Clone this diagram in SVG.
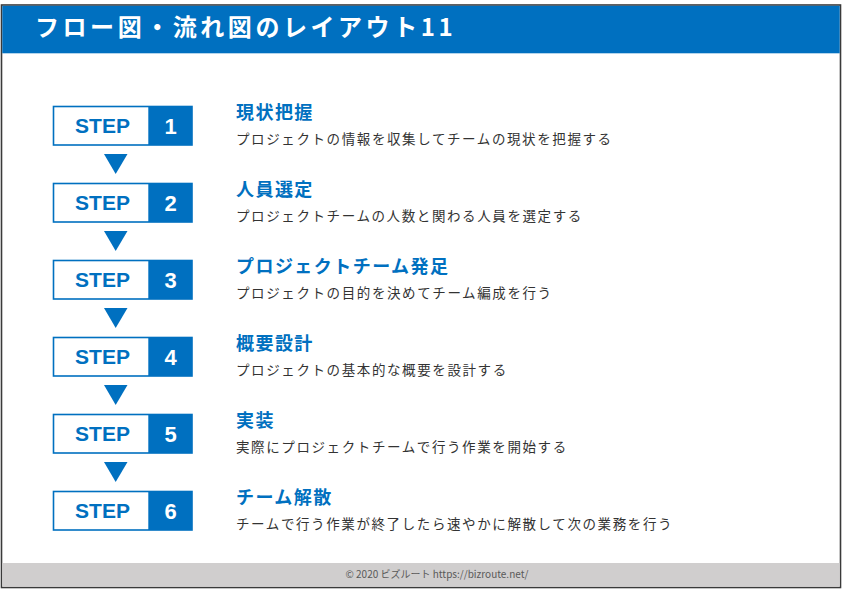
<svg xmlns="http://www.w3.org/2000/svg" width="842" height="595" viewBox="0 0 842 595">
<style>
.frame{fill:#fff;stroke:#3a3a3a;stroke-width:1.6}
.hdr{fill:#0070C0}
.ttl{font-family:"Noto Sans CJK JP","Noto Sans",sans-serif;font-weight:bold;font-size:24px;fill:#fff;letter-spacing:3.55px}
.box{fill:#fff;stroke:#0070C0;stroke-width:1.6}
.num{fill:#0070C0}
.step{font-family:"Liberation Sans",Arial,sans-serif;font-weight:bold;font-size:21px;fill:#0070C0;text-anchor:middle}
.digit{font-family:"Liberation Sans",Arial,sans-serif;font-weight:bold;font-size:22px;fill:#fff;text-anchor:middle}
.tri{fill:#0070C0}
.h{font-family:"Noto Sans CJK JP","Noto Sans",sans-serif;font-weight:bold;font-size:18px;fill:#0070C0;letter-spacing:1.45px}
.d{font-family:"Noto Sans CJK JP","Noto Sans",sans-serif;font-size:13.5px;fill:#333;letter-spacing:1.6px}
.ft{font-family:"Noto Sans CJK JP","Noto Sans",sans-serif;font-size:10px;fill:#595959}
</style>
<rect class="frame" x="1.5" y="5" width="839" height="582.5"/>
<rect class="hdr" x="2.3" y="5.8" width="837.4" height="47.5"/>
<text class="ttl" x="35" y="35.5">フロー図・流れ図のレイアウト11</text>
<rect x="2.3" y="563" width="837.4" height="23.7" fill="#D0CECE"/>
<text class="ft" x="437" y="578" text-anchor="middle">© 2020 ビズルート https://bizroute.net/</text>

<g id="step1">
<rect class="box" x="53.5" y="106.5" width="138.5" height="38.5"/>
<rect class="num" x="148.3" y="106.5" width="43.7" height="38.5"/>
<text class="step" x="102.5" y="133">STEP</text>
<text class="digit" x="170.5" y="133.5">1</text>
<text class="h" x="236" y="119">現状把握</text>
<text class="d" x="236" y="144">プロジェクトの情報を収集してチームの現状を把握する</text>
</g>
<g id="step2">
<rect class="box" x="53.5" y="183.5" width="138.5" height="38.5"/>
<rect class="num" x="148.3" y="183.5" width="43.7" height="38.5"/>
<text class="step" x="102.5" y="210">STEP</text>
<text class="digit" x="170.5" y="210.5">2</text>
<text class="h" x="236" y="196">人員選定</text>
<text class="d" x="236" y="221">プロジェクトチームの人数と関わる人員を選定する</text>
</g>
<g id="step3">
<rect class="box" x="53.5" y="260.5" width="138.5" height="38.5"/>
<rect class="num" x="148.3" y="260.5" width="43.7" height="38.5"/>
<text class="step" x="102.5" y="287">STEP</text>
<text class="digit" x="170.5" y="287.5">3</text>
<text class="h" x="236" y="273">プロジェクトチーム発足</text>
<text class="d" x="236" y="298">プロジェクトの目的を決めてチーム編成を行う</text>
</g>
<g id="step4">
<rect class="box" x="53.5" y="337.5" width="138.5" height="38.5"/>
<rect class="num" x="148.3" y="337.5" width="43.7" height="38.5"/>
<text class="step" x="102.5" y="364">STEP</text>
<text class="digit" x="170.5" y="364.5">4</text>
<text class="h" x="236" y="350">概要設計</text>
<text class="d" x="236" y="375">プロジェクトの基本的な概要を設計する</text>
</g>
<g id="step5">
<rect class="box" x="53.5" y="414.5" width="138.5" height="38.5"/>
<rect class="num" x="148.3" y="414.5" width="43.7" height="38.5"/>
<text class="step" x="102.5" y="441">STEP</text>
<text class="digit" x="170.5" y="441.5">5</text>
<text class="h" x="236" y="427">実装</text>
<text class="d" x="236" y="452">実際にプロジェクトチームで行う作業を開始する</text>
</g>
<g id="step6">
<rect class="box" x="53.5" y="491.5" width="138.5" height="38.5"/>
<rect class="num" x="148.3" y="491.5" width="43.7" height="38.5"/>
<text class="step" x="102.5" y="518">STEP</text>
<text class="digit" x="170.5" y="518.5">6</text>
<text class="h" x="236" y="504">チーム解散</text>
<text class="d" x="236" y="529">チームで行う作業が終了したら速やかに解散して次の業務を行う</text>
</g>

<g id="connectors">
<polygon class="tri" points="104,154 127.5,154 115.7,174"/>
<polygon class="tri" points="104,231 127.5,231 115.7,251"/>
<polygon class="tri" points="104,308 127.5,308 115.7,328"/>
<polygon class="tri" points="104,385 127.5,385 115.7,405"/>
<polygon class="tri" points="104,462 127.5,462 115.7,482"/>
</g>
</svg>
